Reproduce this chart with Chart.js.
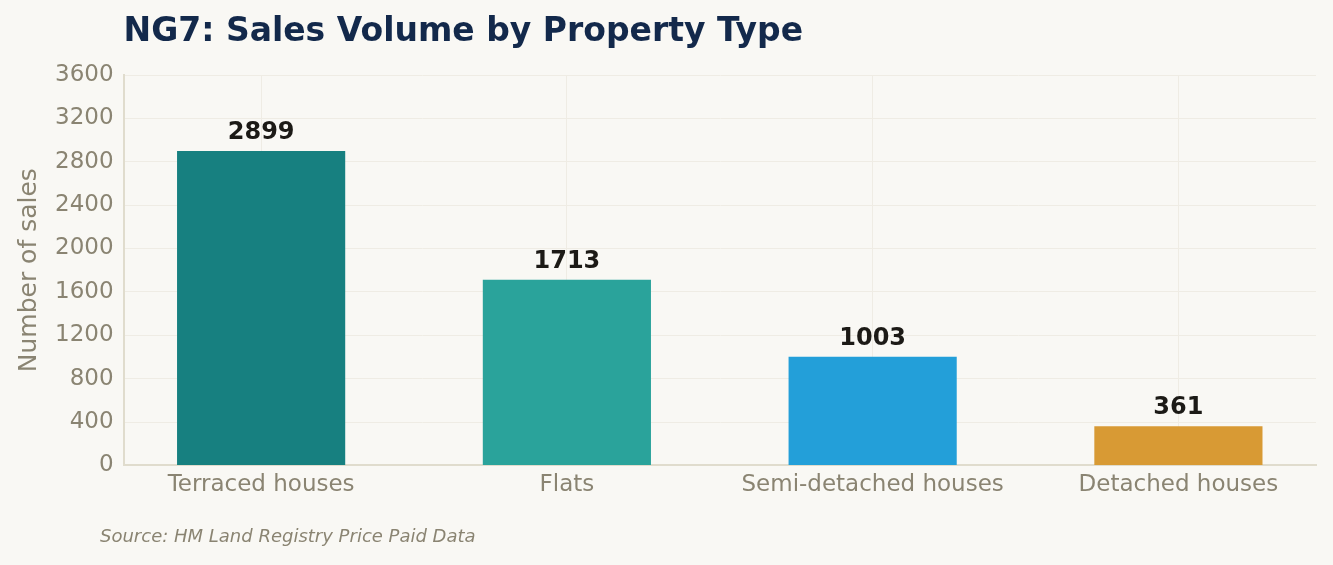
<!DOCTYPE html>
<html>
<head>
<meta charset="utf-8">
<script src="https://cdn.jsdelivr.net/npm/chart.js@4.4.1/dist/chart.umd.min.js"></script>
<style>
    html, body { margin: 0; padding: 0; background: #f9f8f4; }
    #wrap { width: 1333px; height: 565px; position: relative; }
</style>
</head>
<body>
<div id="wrap"><canvas id="chartSales"></canvas></div>
<script>
const categories = ["Terraced houses", "Flats", "Semi-detached houses", "Detached houses"];
const salesCounts = [2899, 1713, 1003, 361];
const barColours = ["#178080", "#2aa39b", "#239fd9", "#d89a34"];
const yTicks = [0, 400, 800, 1200, 1600, 2000, 2400, 2800, 3200, 3600];

const fontFamily = "'DejaVu Sans', sans-serif";
const mutedColour = "#8a8472";

// title, source note and value labels drawn straight onto the canvas
const decorations = {
    id: "decorations",
    afterDatasetsDraw(chart) {
        const ctx = chart.ctx;
        const area = chart.chartArea;
        ctx.save();
        ctx.fillStyle = "#13294b";
        ctx.font = "bold 33px " + fontFamily;
        ctx.textAlign = "left";
        ctx.textBaseline = "middle";
        ctx.fillText("NG7: Sales Volume by Property Type", area.left, 32);

        ctx.fillStyle = mutedColour;
        ctx.font = "italic 18px " + fontFamily;
        ctx.fillText("Source: HM Land Registry Price Paid Data", 100, 537);

        const meta = chart.getDatasetMeta(0);
        ctx.fillStyle = "#1c1a16";
        ctx.font = "bold 24px " + fontFamily;
        ctx.textAlign = "center";
        ctx.textBaseline = "bottom";
        meta.data.forEach((bar, i) => {
            ctx.fillText(String(salesCounts[i]), bar.x, bar.y - 6);
        });
        ctx.restore();
    }
};

window.onload = () => {
    const ctx = document.getElementById("chartSales").getContext("2d");
    // bars sit on a linear x scale so the side margins can match the reference (-0.45 .. 3.45)
    const points = categories.map((c, i) => ({ x: i, y: salesCounts[i] }));
    new Chart(ctx, {
        type: "bar",
        data: {
            datasets: [{
                data: points,
                backgroundColor: barColours,
                borderWidth: 0,
                barPercentage: 0.55,
                categoryPercentage: 1.0,
            }]
        },
        options: {
            responsive: true,
            maintainAspectRatio: false,
            animation: false,
            layout: { padding: { top: 75, right: 17, bottom: 60, left: 14 } },
            plugins: {
                legend: { display: false },
                tooltip: { enabled: false },
            },
            scales: {
                x: {
                    type: "linear",
                    min: -0.45,
                    max: 3.45,
                    offset: false,
                    afterBuildTicks: (axis) => {
                        axis.ticks = categories.map((c, i) => ({ value: i }));
                    },
                    grid: { color: "#efece4", drawTicks: false, offset: false },
                    border: { color: "#e0dccd", width: 2 },
                    ticks: {
                        color: mutedColour,
                        font: { family: fontFamily, size: 23 },
                        padding: 6,
                        autoSkip: false,
                        maxRotation: 0,
                        callback: (value) => categories[value],
                    },
                },
                y: {
                    min: 0,
                    max: 3600,
                    afterBuildTicks: (axis) => {
                        axis.ticks = yTicks.map(v => ({ value: v }));
                    },
                    grid: { color: "#efece4", drawTicks: false },
                    border: { color: "#e0dccd", width: 2 },
                    ticks: {
                        color: mutedColour,
                        font: { family: fontFamily, size: 23 },
                        padding: 10,
                        callback: (value) => String(value),
                    },
                    title: {
                        display: true,
                        text: "Number of sales",
                        color: mutedColour,
                        font: { family: fontFamily, size: 25 },
                        padding: { top: 0, bottom: 1 },
                    },
                },
            },
        },
        plugins: [decorations],
    });
};
</script>
</body>
</html>
